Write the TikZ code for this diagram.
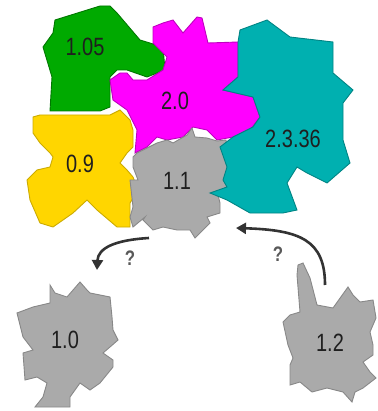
\documentclass[tikz,border=0pt]{standalone}
\usepackage{fontspec}
\setmainfont{Liberation Sans}
\usetikzlibrary{arrows.meta}
\definecolor{cgreen}{RGB}{0,170,0}
\definecolor{cmag}{RGB}{255,0,255}
\definecolor{ccyan}{RGB}{0,176,176}
\definecolor{cyel}{RGB}{255,214,0}
\definecolor{cgray}{RGB}{170,170,170}
\tikzset{
  blob/.style={line width=0.9pt, line join=miter},
  lbl/.style={font=\fontsize{25}{25}\selectfont, text=black!88, inner sep=0pt},
  conn/.style={line width=2.6pt, draw=black!80, -{Triangle[length=10pt,width=11pt]}},
  qm/.style={font=\fontsize{21}{21}\selectfont\bfseries, text=black!65, inner sep=0pt}
}
\newcommand{\nrw}[1]{\scalebox{0.8}[1]{#1}}
\begin{document}
\begin{tikzpicture}[x=1pt,y=-1pt]
\useasboundingbox (0,0) rectangle (377,411);
% green 1.05
\fill[blob,cgreen,draw=cgreen!70!black] (55,20)--(100,6)--(110,6)--(117,13)--(140,40)--(163,47)--(165,70)--(147,77)--(127,70)--(117,70)--(110,77)--(110,107)--(100,111)--(50,111)--(52,77)--(43,47)--(53,33)--cycle;
% yellow 0.9
\fill[blob,cyel,draw=cyel!80!black] (33,117)--(40,115)--(110,115)--(120,110)--(130,120)--(133,130)--(133,147)--(127,153)--(120,163)--(127,170)--(133,177)--(138,190)--(130,203)--(130,227)--(117,227)--(97,210)--(87,200)--(73,213)--(53,227)--(40,223)--(30,200)--(27,180)--(37,170)--(50,167)--(53,157)--(50,153)--(40,143)--(33,133)--cycle;
% magenta 2.0
\fill[blob,cmag,draw=cmag!75!black] (153,27)--(163,23)--(173,20)--(183,33)--(197,17)--(202,18)--(208,43)--(238,42)--(238,77)--(223,90)--(253,97)--(260,117)--(250,130)--(233,137)--(217,140)--(207,130)--(193,127)--(183,137)--(167,140)--(157,137)--(147,147)--(135,153)--(137,130)--(127,110)--(113,100)--(110,80)--(120,73)--(127,73)--(133,80)--(147,80)--(163,70)--(167,57)--(153,43)--cycle;
% gray 1.1
\fill[blob,cgray,draw=cgray!80!black] (133,157)--(137,153)--(147,148)--(157,143)--(167,140)--(173,143)--(187,135)--(192,128)--(195,137)--(207,138)--(217,141)--(226,140)--(228,160)--(229,185)--(218,195)--(220,203)--(220,213)--(207,217)--(210,223)--(200,233)--(195,238)--(190,230)--(177,230)--(163,227)--(153,230)--(143,220)--(145,217)--(133,227)--(130,217)--(133,207)--(130,180)--(138,180)--(133,167)--cycle;
% cyan 2.3.36
\fill[blob,ccyan,draw=ccyan!75!black] (240,30)--(267,20)--(290,37)--(333,42)--(333,73)--(353,90)--(343,103)--(343,140)--(350,163)--(327,183)--(307,173)--(297,167)--(287,183)--(297,210)--(283,213)--(250,213)--(227,200)--(210,193)--(227,187)--(223,180)--(227,167)--(220,147)--(233,137)--(253,127)--(260,117)--(253,97)--(223,90)--(238,77)--(238,42)--cycle;
% gray 1.0
\fill[blob,cgray,draw=cgray!80!black] (50,285)--(55,293)--(67,297)--(80,282)--(87,290)--(90,293)--(110,297)--(112,317)--(113,330)--(118,340)--(110,347)--(103,353)--(113,360)--(113,367)--(100,383)--(90,390)--(80,383)--(70,397)--(70,407)--(35,407)--(43,397)--(47,383)--(37,377)--(25,380)--(23,353)--(33,350)--(23,337)--(17,313)--(33,307)--(50,303)--cycle;
% gray 1.2
\fill[blob,cgray,draw=cgray!80!black] (298,265)--(303,263)--(310,278)--(317,305)--(333,308)--(348,287)--(353,295)--(360,302)--(373,300)--(376,318)--(370,332)--(373,345)--(373,355)--(363,362)--(370,372)--(376,378)--(363,388)--(355,392)--(352,402)--(343,392)--(327,388)--(312,392)--(300,382)--(290,385)--(290,365)--(293,358)--(288,345)--(283,322)--(290,315)--(300,312)--(297,275)--cycle;
% labels
\node[lbl] (n105) at (85,47) {\nrw{1.05}};
\node[lbl] (n20) at (175,101) {\nrw{2.0}};
\node[lbl] (n2336) at (293,139) {\nrw{2.3.36}};
\node[lbl] (n09) at (80,164) {\nrw{0.9}};
\node[lbl] (n11) at (177,181) {\nrw{1.1}};
\node[lbl] (n10) at (65,340) {\nrw{1.0}};
\node[lbl] (n12) at (330,343) {\nrw{1.2}};
% connectors
\coordinate (s1) at (149,238);
\coordinate (t1) at (97,270);
\coordinate (s2) at (325,285);
\coordinate (t2) at (236,228);
\draw[conn] (s1) .. controls (115,240) and (98,248) .. (t1);
\draw[conn] (s2) .. controls (325,240) and (300,230) .. (t2);
\node[qm] (q1) at (130,258) {\nrw{?}};
\node[qm] (q2) at (278,254) {\nrw{?}};
\end{tikzpicture}
\end{document}
